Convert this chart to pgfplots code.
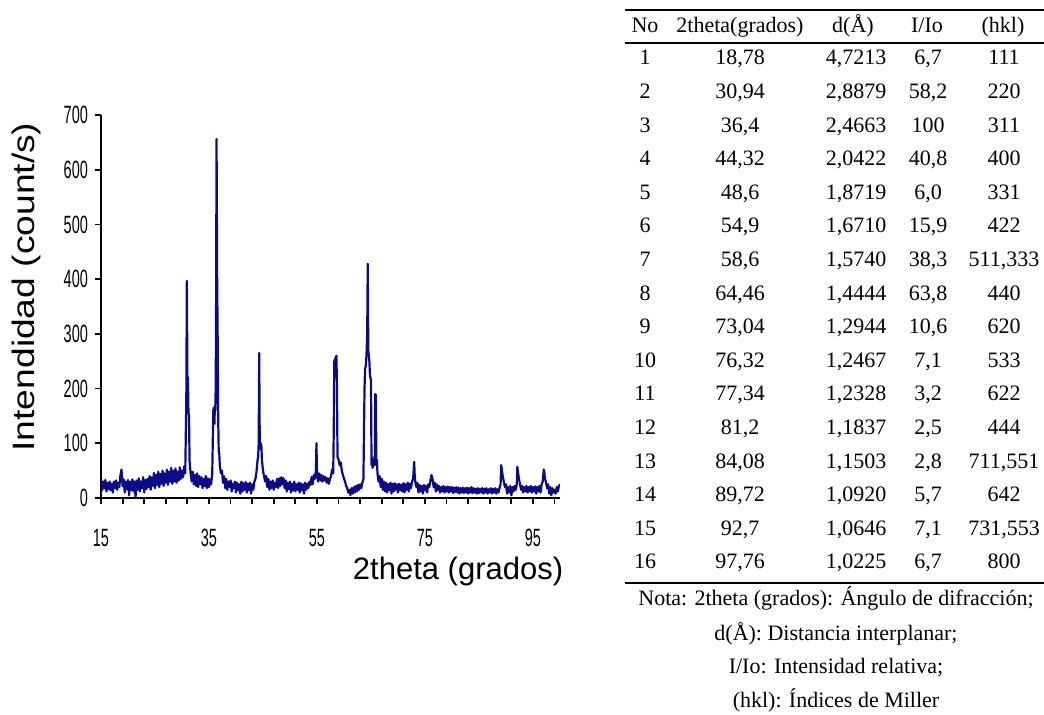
\documentclass[border=0pt]{standalone}
\usepackage{fontspec}
\setmainfont{Liberation Serif}
\newfontfamily\arial{Liberation Sans}
\usepackage{graphicx}
\usepackage{pgfplots}
\usepackage{pgfplotstable}
\pgfplotsset{compat=1.18}
\definecolor{xrdblue}{RGB}{10,10,140}
\newcommand\sx[1]{\scalebox{0.58}[1]{#1}}
\pgfplotstableread{
x y
15.0 38
15.2 14
15.4 30
15.6 18
15.8 33
16.0 12
16.2 28
16.4 16
16.6 30
16.8 14
17.0 26
17.2 10
17.4 30
17.6 18
17.8 32
18.0 15
18.2 28
18.4 20
18.6 42
18.8 52
19.0 22
19.2 34
19.4 10
19.6 30
19.8 16
20.0 33
20.2 5
20.4 30
20.6 14
20.8 34
21.0 12
21.2 30
21.4 2
21.6 32
21.8 15
22.0 36
22.2 12
22.4 30
22.6 18
22.8 38
23.0 10
23.2 33
23.4 16
23.6 35
23.8 20
24.0 40
24.2 15
24.4 38
24.6 22
24.8 46
25.0 18
25.2 42
25.4 24
25.6 48
25.8 20
26.0 44
26.2 26
26.4 50
26.6 22
26.8 45
27.0 28
27.2 52
27.4 24
27.6 48
27.8 30
28.0 55
28.2 26
28.4 50
28.6 30
28.8 54
29.0 28
29.2 48
29.4 32
29.6 56
29.8 35
30.0 50
30.2 38
30.4 58
30.6 45
30.8 180
30.9 397
31.0 222
31.1 220
31.2 155
31.3 150
31.4 68
31.6 45
31.8 30
32.0 48
32.2 25
32.4 42
32.6 22
32.8 45
33.0 20
33.2 40
33.4 25
33.6 38
33.8 18
34.0 35
34.2 22
34.4 40
34.6 18
34.8 36
35.0 20
35.2 34
35.4 25
35.6 45
35.8 160
35.9 165
36.0 135
36.1 170
36.2 160
36.3 300
36.4 656
36.5 413
36.6 300
36.7 150
36.8 85
36.9 82
37.0 60
37.2 45
37.4 50
37.6 28
37.8 40
38.0 18
38.2 35
38.4 15
38.6 30
38.8 20
39.0 32
39.2 12
39.4 26
39.6 18
39.8 30
40.0 10
40.2 28
40.4 14
40.6 25
40.8 8
41.0 30
41.2 12
41.4 27
41.6 15
41.8 29
42.0 10
42.2 26
42.4 14
42.6 28
42.8 8
43.0 25
43.2 15
43.4 30
43.6 35
43.8 48
44.0 70
44.1 75
44.2 100
44.3 265
44.4 100
44.5 90
44.6 100
44.7 95
44.8 70
45.0 50
45.2 40
45.4 30
45.6 40
45.8 20
46.0 35
46.2 15
46.4 30
46.6 18
46.8 32
47.0 15
47.2 28
47.4 20
47.6 35
47.8 18
48.0 36
48.2 22
48.4 38
48.6 25
48.8 36
49.0 18
49.2 32
49.4 12
49.6 28
49.8 16
50.0 30
50.2 10
50.4 26
50.6 14
50.8 30
51.0 12
51.2 25
51.4 15
51.6 28
51.8 10
52.0 27
52.2 14
52.4 25
52.6 8
52.8 28
53.0 15
53.2 26
53.4 18
53.6 30
53.8 24
54.0 38
54.2 25
54.4 42
54.6 35
54.8 50
54.9 100
55.0 45
55.2 30
55.4 45
55.6 32
55.8 42
56.0 30
56.2 40
56.4 32
56.6 38
56.8 28
57.0 36
57.2 26
57.4 35
57.6 40
57.8 52
58.0 45
58.1 120
58.2 250
58.4 255
58.6 260
58.7 200
58.8 75
59.0 70
59.2 60
59.4 65
59.6 50
59.8 42
60.0 35
60.2 30
60.4 22
60.6 18
60.8 10
61.0 15
61.2 5
61.4 18
61.6 8
61.8 20
62.0 10
62.2 22
62.4 12
62.6 24
62.8 15
63.0 25
63.2 18
63.4 28
63.6 35
63.8 200
63.9 235
64.0 240
64.1 250
64.2 270
64.3 300
64.4 428
64.5 270
64.6 260
64.7 250
64.8 225
64.9 220
65.0 215
65.1 60
65.2 75
65.3 55
65.4 70
65.5 60
65.6 65
65.7 60
65.8 190
65.9 188
66.0 65
66.1 70
66.2 45
66.4 30
66.6 40
66.8 20
67.0 35
67.2 15
67.4 30
67.6 12
67.8 28
68.0 10
68.2 25
68.4 14
68.6 28
68.8 8
69.0 26
69.2 12
69.4 27
69.6 15
69.8 25
70.0 10
70.2 26
70.4 14
70.6 24
70.8 12
71.0 27
71.2 10
71.4 25
71.6 15
71.8 28
72.0 12
72.2 26
72.4 18
72.6 30
72.8 35
73.0 66
73.1 40
73.2 30
73.4 20
73.6 28
73.8 10
74.0 24
74.2 12
74.4 22
74.6 8
74.8 24
75.0 14
75.2 22
75.4 10
75.6 25
75.8 20
76.0 32
76.2 42
76.4 35
76.6 20
76.8 28
77.0 12
77.2 25
77.4 15
77.6 22
77.8 10
78.0 20
78.2 12
78.4 22
78.6 10
78.8 20
79.0 12
79.2 21
79.4 10
79.6 20
79.8 12
80.0 20
80.2 9
80.4 19
80.6 11
80.8 20
81.0 10
81.2 19
81.4 8
81.6 18
81.8 10
82.0 19
82.2 9
82.4 18
82.6 10
82.8 19
83.0 8
83.2 18
83.4 10
83.6 20
83.8 9
84.0 18
84.2 10
84.4 17
84.6 8
84.8 18
85.0 9
85.2 17
85.4 10
85.6 18
85.8 8
86.0 17
86.2 10
86.4 18
86.6 8
86.8 16
87.0 10
87.2 18
87.4 8
87.6 17
87.8 10
88.0 18
88.2 8
88.4 16
88.6 10
88.8 18
89.0 25
89.1 60
89.2 55
89.4 40
89.6 30
89.8 20
90.0 25
90.2 8
90.4 20
90.6 10
90.8 22
91.0 5
91.2 20
91.4 12
91.6 22
91.8 15
92.0 25
92.1 57
92.2 50
92.4 35
92.6 25
92.8 15
93.0 22
93.2 10
93.4 20
93.6 12
93.8 22
94.0 10
94.2 20
94.4 12
94.6 22
94.8 10
95.0 20
95.2 12
95.4 21
95.6 8
95.8 20
96.0 12
96.2 22
96.4 10
96.6 25
96.8 30
97.0 52
97.1 48
97.2 35
97.4 30
97.6 18
97.8 25
98.0 8
98.2 20
98.4 5
98.6 18
98.8 10
99.0 15
99.2 8
99.4 20
99.6 12
99.8 22
100.0 25
}\xrd
\begin{document}
\begin{tikzpicture}
\path[use as bounding box] (0,0) rectangle (522pt,-357.5pt);
\begin{axis}[
  at={(50.5pt,-249pt)}, anchor=south west,
  scale only axis, width=229.5pt, height=191.5pt,
  xmin=15, xmax=100, ymin=0, ymax=700,
  axis lines=left, axis line style={-, black, line width=0.9pt},
  tick align=outside, major tick length=3pt, minor tick length=3pt,
  tick style={black, line width=0.9pt},
  xtick={15,35,55,75,95},
  xticklabels={\sx{15},\sx{35},\sx{55},\sx{75},\sx{95}},
  minor xtick={19,23,27,31,39,43,47,51,59,63,67,71,79,83,87,91,99},
  ytick={0,100,200,300,400,500,600,700},
  yticklabels={\sx{0},\sx{100},\sx{200},\sx{300},\sx{400},\sx{500},\sx{600},\sx{700}},
  tick label style={font=\arial\fontsize{12.5}{12.5}\selectfont},
  xticklabel style={yshift=-9pt},
  xlabel={2theta (grados)},
  ylabel={\scalebox{1.2}[1]{Intendidad (count/s)}},
  every axis x label/.style={at={(rel axis cs:0.778,-0.193)}, anchor=center, font=\arial\fontsize{15.5}{16}\selectfont},
  every axis y label/.style={at={(rel axis cs:-0.163,0.551)}, anchor=center, rotate=90, font=\arial\fontsize{15.5}{16}\selectfont},
]
\addplot[xrdblue, line width=1.1pt, line join=round] table[x=x,y=y] {\xrd};
\end{axis}
\begin{scope}[x=0.5pt, y=-0.5pt, font=\fontsize{11}{13}\selectfont]
\draw[line width=1pt] (625,10) -- (1044,10);
\draw[line width=0.8pt] (625,43) -- (1044,43);
\draw[line width=1pt] (625,583) -- (1044,583);
\node[anchor=base, inner sep=0pt] at (645,33) {No};
\node[anchor=base, inner sep=0pt] at (740,33) {2theta(grados)};
\node[anchor=base, inner sep=0pt] at (853,33) {d(Å)};
\node[anchor=base, inner sep=0pt] at (927,33) {I/Io};
\node[anchor=base, inner sep=0pt] at (1003,33) {(hkl)};
\foreach \i/\a/\b/\c/\d in {
 1/{18,78}/{4,7213}/{6,7}/{111},
 2/{30,94}/{2,8879}/{58,2}/{220},
 3/{36,4}/{2,4663}/{100}/{311},
 4/{44,32}/{2,0422}/{40,8}/{400},
 5/{48,6}/{1,8719}/{6,0}/{331},
 6/{54,9}/{1,6710}/{15,9}/{422},
 7/{58,6}/{1,5740}/{38,3}/{511,333},
 8/{64,46}/{1,4444}/{63,8}/{440},
 9/{73,04}/{1,2944}/{10,6}/{620},
 10/{76,32}/{1,2467}/{7,1}/{533},
 11/{77,34}/{1,2328}/{3,2}/{622},
 12/{81,2}/{1,1837}/{2,5}/{444},
 13/{84,08}/{1,1503}/{2,8}/{711,551},
 14/{89,72}/{1,0920}/{5,7}/{642},
 15/{92,7}/{1,0646}/{7,1}/{731,553},
 16/{97,76}/{1,0225}/{6,7}/{800}}
{
  \pgfmathsetmacro\yy{65+33.6*(\i-1)}
  \node[anchor=base, inner sep=0pt] at (645,\yy) {\i};
  \node[anchor=base, inner sep=0pt] at (740,\yy) {\a};
  \node[anchor=base, inner sep=0pt] at (856,\yy) {\b};
  \node[anchor=base, inner sep=0pt] at (928,\yy) {\c};
  \node[anchor=base, inner sep=0pt] at (1004,\yy) {\d};
}
\node[anchor=base, inner sep=0pt] at (836,605) {Nota: 2theta (grados): Ángulo de difracción;};
\node[anchor=base, inner sep=0pt] at (836,640) {d(Å): Distancia interplanar;};
\node[anchor=base, inner sep=0pt] at (836,673) {I/Io: Intensidad relativa;};
\node[anchor=base, inner sep=0pt] at (836,707) {(hkl): Índices de Miller};
\end{scope}
\end{tikzpicture}
\end{document}
